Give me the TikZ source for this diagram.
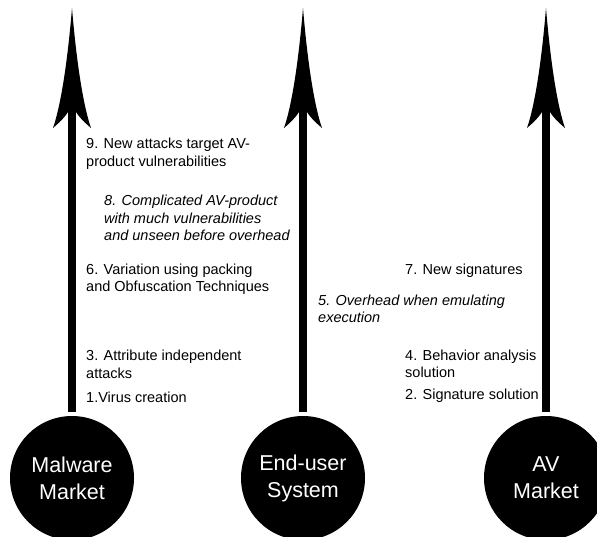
\documentclass[tikz,border=0pt]{standalone}
\usepackage{fontspec}
\setmainfont{Liberation Sans}
\usetikzlibrary{arrows.meta}

% long spear-like tip with concave sides
\pgfdeclarearrow{
  name = Spear,
  setup code = {
    \pgfarrowssettipend{0pt}
    \pgfarrowssetlineend{-100pt}
    \pgfarrowssetvisualbackend{-120pt}
    \pgfarrowssetbackend{-120pt}
    \pgfarrowshullpoint{0pt}{0pt}
    \pgfarrowshullpoint{-120pt}{19pt}
    \pgfarrowshullpoint{-120pt}{-19pt}
  },
  drawing code = {
    \pgfpathmoveto{\pgfpointorigin}
    \pgfpathcurveto{\pgfpoint{-60pt}{5pt}}{\pgfpoint{-100pt}{12pt}}{\pgfpoint{-120pt}{19pt}}
    \pgfpathcurveto{\pgfpoint{-114pt}{12pt}}{\pgfpoint{-109pt}{7pt}}{\pgfpoint{-104pt}{4pt}}
    \pgfpathlineto{\pgfpoint{-104pt}{-4pt}}
    \pgfpathcurveto{\pgfpoint{-109pt}{-7pt}}{\pgfpoint{-114pt}{-12pt}}{\pgfpoint{-120pt}{-19pt}}
    \pgfpathcurveto{\pgfpoint{-100pt}{-12pt}}{\pgfpoint{-60pt}{-5pt}}{\pgfpointorigin}
    \pgfpathclose
    \pgfusepathqfill
  }
}

\begin{document}
\begin{tikzpicture}[x=1pt, y=-1pt,
  market/.style={circle, fill=black, text=white, minimum size=124pt, inner sep=0pt, align=center, font=\fontsize{21.5}{27}\selectfont},
  flow/.style={-{Spear}, line width=8pt, shorten <=4pt},
  note/.style={anchor=west, align=left, inner sep=0pt, font=\fontsize{14.5}{17.5}\selectfont},
  overhead/.style={note, font=\fontsize{14.5}{17.5}\selectfont\itshape}
]
\useasboundingbox (0,0) rectangle (597,537);

% the three parties
\node[market] (malware) at (72,478) {Malware\\Market};
\node[market] (enduser) at (303,478) {End-user\\System};
\node[market] (av) at (546,478) {AV\\Market};

\coordinate (malwaretop) at (72,8);
\coordinate (endusertop) at (303,8);
\coordinate (avtop) at (546,8);

\draw[flow] (malware) -- (malwaretop);
\draw[flow] (enduser) -- (endusertop);
\draw[flow] (av) -- (avtop);

% steps
\node[note] (virus) at (86,397) {1.Virus creation};
\node[note] (signature) at (405,396) {2. Signature solution};
\node[note] (attribute) at (86,364.5) {3. Attribute independent\\attacks};
\node[note] (behavior) at (405,364) {4. Behavior analysis\\solution};
\node[overhead] (emulating) at (318,309) {5. Overhead when emulating\\execution};
\node[note] (packing) at (86,279.5) {6. Variation using packing\\and Obfuscation Techniques};
\node[note] (newsig) at (405,271) {7. New signatures};
\node[overhead] (complicated) at (104,218) {8. Complicated AV-product\\with much vulnerabilities\\and unseen before overhead};
\node[note] (newattacks) at (86,154) {9. New attacks target AV-\\product vulnerabilities};
\end{tikzpicture}
\end{document}
